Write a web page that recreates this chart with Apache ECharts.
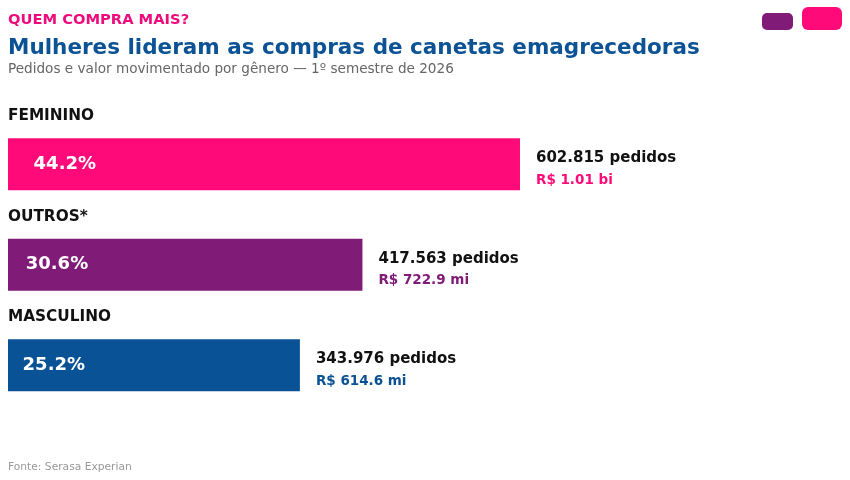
<!DOCTYPE html>
<html>
<head>
<meta charset="utf-8">
<title>Quem compra mais</title>
<script src="https://cdn.jsdelivr.net/npm/echarts@6/dist/echarts.min.js"></script>
<style>
    html, body { margin: 0; padding: 0; background: #fff; }
    #main { width: 850px; height: 480px; }
</style>
</head>
<body>
<div id="main"></div>
<script>
    // dados
    var categorias = ['FEMININO', 'OUTROS*', 'MASCULINO']
    var percentuais = [44.2, 30.6, 25.2]
    var pedidos = ['602.815', '417.563', '343.976']
    var valores = ['R$ 1.01 bi', 'R$ 722.9 mi', 'R$ 614.6 mi']
    var cores = ['#ff0a78', '#801c78', '#0a5296']

    var font = 'DejaVu Sans'
    var myChart = echarts.init(document.getElementById('main'))

    var data = percentuais.map(function (v, i) {
        return {
            value: v,
            itemStyle: { color: cores[i] },
            label: {
                rich: {
                    p: { fontFamily: font, fontWeight: 'bold', fontSize: 15, color: '#111', lineHeight: 22 },
                    v: { fontFamily: font, fontWeight: 'bold', fontSize: 13.5, color: cores[i], lineHeight: 22 }
                }
            }
        }
    })

    myChart.setOption({
        animation: false,
        textStyle: { fontFamily: font },
        title: [
            { text: 'QUEM COMPRA MAIS?', left: 3, top: 8,
              textStyle: { fontFamily: font, fontSize: 14.7, fontWeight: 'bold', color: '#ee0a7c' } },
            { text: 'Mulheres lideram as compras de canetas emagrecedoras', left: 3, top: 32,
              textStyle: { fontFamily: font, fontSize: 21.5, fontWeight: 'bold', color: '#0b5394' } },
            { text: 'Pedidos e valor movimentado por gênero — 1º semestre de 2026', left: 3, top: 57,
              textStyle: { fontFamily: font, fontSize: 13.6, fontWeight: 'normal', color: '#666' } },
            { text: 'Fonte: Serasa Experian', left: 3, top: 457,
              textStyle: { fontFamily: font, fontSize: 10.7, fontWeight: 'normal', color: '#999' } }
        ],
        graphic: [
            { type: 'rect', shape: { x: 762, y: 13, width: 31, height: 17, r: 5 }, style: { fill: '#801c78' } },
            { type: 'rect', shape: { x: 802, y: 7, width: 40, height: 23, r: 6 }, style: { fill: '#ff0a78' } }
        ],
        grid: { left: 8, top: 114, width: 695, height: 301.5, containLabel: false },
        xAxis: { type: 'value', min: 0, max: 60, show: false },
        yAxis: {
            type: 'category',
            data: categorias,
            inverse: true,
            show: false
        },
        series: [
            {
                type: 'bar',
                data: data,
                barWidth: 52,
                label: {
                    show: true,
                    position: 'right',
                    distance: 16,
                    padding: [10, 0, 0, 0],
                    formatter: function (p) {
                        return '{p|' + pedidos[p.dataIndex] + ' pedidos}\n{v|' + valores[p.dataIndex] + '}'
                    }
                }
            },
            {
                type: 'bar',
                data: percentuais,
                barWidth: 52,
                barGap: '-100%',
                itemStyle: { color: 'transparent' },
                silent: true,
                label: {
                    show: true,
                    position: ['5%', '50%'],
                    verticalAlign: 'middle',
                    formatter: function (p) { return p.value.toFixed(1) + '%' },
                    fontFamily: font,
                    fontWeight: 'bold',
                    fontSize: 18,
                    color: '#fff'
                }
            },
            {
                type: 'bar',
                data: percentuais,
                barWidth: 52,
                barGap: '-100%',
                itemStyle: { color: 'transparent' },
                silent: true,
                label: {
                    show: true,
                    position: [0, -22],
                    verticalAlign: 'middle',
                    align: 'left',
                    formatter: function (p) { return categorias[p.dataIndex] },
                    fontFamily: font,
                    fontWeight: 'bold',
                    fontSize: 15.3,
                    color: '#111'
                }
            }
        ]
    })
</script>
</body>
</html>
